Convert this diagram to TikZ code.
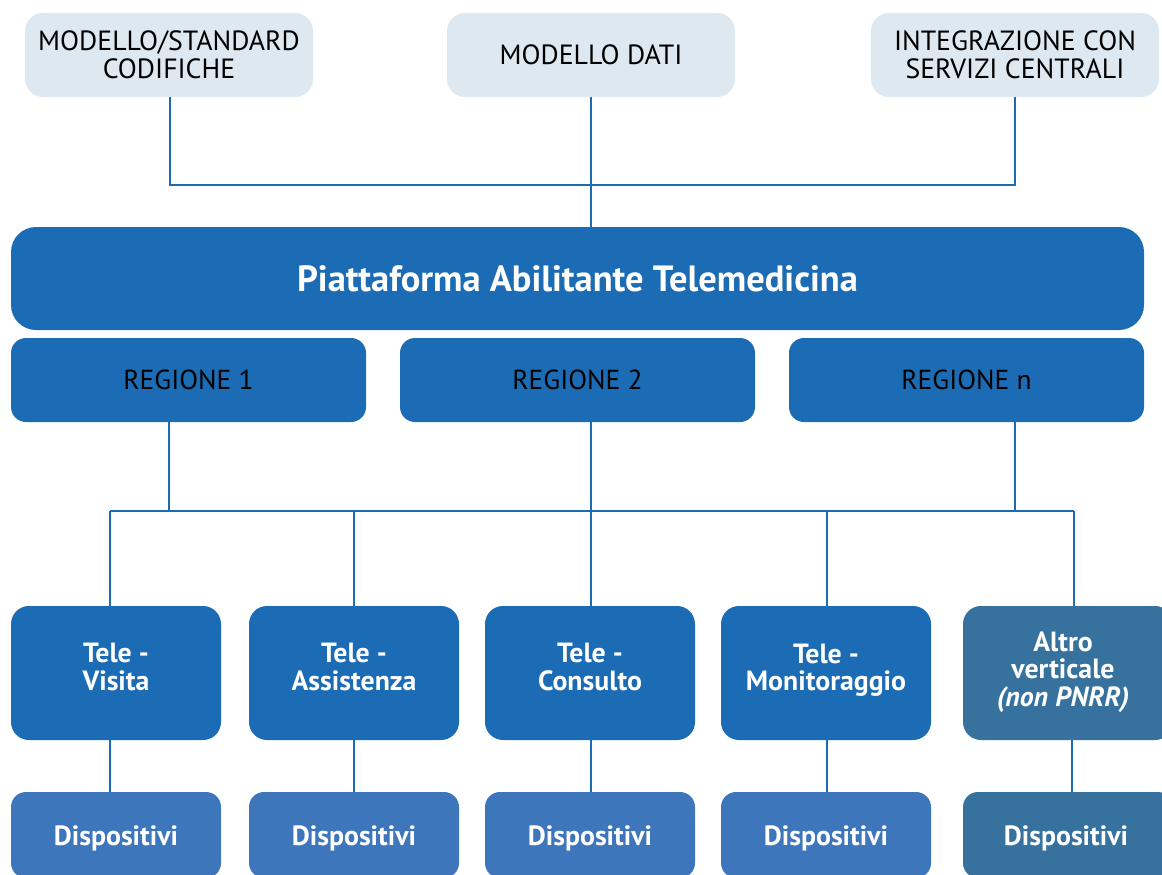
\documentclass[tikz,border=0pt]{standalone}
\usepackage{fontspec}
\setmainfont{PT Sans}
\definecolor{topfill}{HTML}{DEE8F0}
\definecolor{mainblue}{HTML}{1B6CB5}
\definecolor{devblue}{HTML}{3E76BB}
\definecolor{altblue}{HTML}{37719E}
\begin{document}
\begin{tikzpicture}[x=1pt,y=-1pt,
  topbox/.style={fill=topfill, draw=none, rounded corners=18pt, minimum width=288pt, minimum height=84pt, inner sep=0pt, align=center, font=\fontsize{27.8}{27.5}\selectfont, text=black},
  platbox/.style={fill=mainblue, draw=none, rounded corners=25pt, minimum width=1133pt, minimum height=103pt, inner sep=0pt, font=\fontsize{36.5}{38}\selectfont\bfseries, text=white},
  regbox/.style={fill=mainblue, draw=none, rounded corners=15pt, minimum width=355pt, minimum height=84pt, inner sep=0pt, font=\fontsize{27.5}{28}\selectfont, text=black},
  midbox/.style={fill=mainblue, draw=none, rounded corners=18pt, minimum width=210pt, minimum height=134pt, inner sep=0pt},
  devbox/.style={fill=devblue, draw=none, rounded corners=15pt, minimum width=210pt, minimum height=86pt, inner sep=0pt},
  wtxt/.style={align=center, inner sep=0pt, font=\fontsize{27.8}{27.5}\selectfont\bfseries, text=white},
  conn/.style={draw=mainblue, line width=1.6pt}
]
\useasboundingbox (0,0) rectangle (1162,875);
\clip (0,0) rectangle (1162,875);

% top boxes
\node[topbox] (t1) at (169,55) {MODELLO/STANDARD\\CODIFICHE};
\node[topbox] (t2) at (591,55) {MODELLO DATI};
\node[topbox] (t3) at (1015,55) {INTEGRAZIONE CON\\SERVIZI CENTRALI};

% platform
\node[platbox] (plat) at (577.5,278.5) {Piattaforma Abilitante Telemedicina};

% regions
\node[regbox] (r1) at (188.5,380) {REGIONE 1};
\node[regbox] (r2) at (577.5,380) {REGIONE 2};
\node[regbox] (rn) at (966.5,380) {REGIONE n};

% middle boxes
\node[midbox] (m1) at (116,673) {};
\node[midbox] (m2) at (354,673) {};
\node[midbox] (m3) at (590,673) {};
\node[midbox] (m4) at (826,673) {};
\node[midbox, fill=altblue] (m5) at (1068,673) {};
\node[wtxt] (m1t) at (116,667) {Tele -\\Visita};
\node[wtxt] (m2t) at (354,667) {Tele -\\Assistenza};
\node[wtxt] (m3t) at (590,667) {Tele -\\Consulto};
\node[wtxt] (m4t) at (826,670) {Tele -\\Monitoraggio};
\node[wtxt] (m5t) at (1063,672) {Altro\\verticale\\{\itshape(non PNRR)}};

% bottom boxes
\node[devbox] (d1) at (116,835) {};
\node[devbox] (d2) at (354,835) {};
\node[devbox] (d3) at (590,835) {};
\node[devbox] (d4) at (826,835) {};
\node[devbox, fill=altblue] (d5) at (1068,835) {};
\node[wtxt] (d1t) at (116,838) {Dispositivi};
\node[wtxt] (d2t) at (354,838) {Dispositivi};
\node[wtxt] (d3t) at (590,838) {Dispositivi};
\node[wtxt] (d4t) at (826,838) {Dispositivi};
\node[wtxt] (d5t) at (1066,838) {Dispositivi};

% connectors top
\coordinate (j1) at (591,185);
\draw[conn] (t1.south -| 170,0) |- (j1) -| (t3.south);
\draw[conn] (t2.south) -- (t2.south |- plat.north);

% bus
\coordinate (b1) at (110,511);
\coordinate (b2) at (354,511);
\coordinate (b3) at (591,511);
\coordinate (b4) at (827,511);
\coordinate (b5) at (1074,511);
\draw[conn] (r1.south -| t1.south) -- (t1.south |- b1);
\draw[conn] (rn.south -| t3.south) -- (t3.south |- b1);
\draw[conn] (r2.south -| b3) -- (b3);
\draw[conn] (b1) -- (b5);
\draw[conn] (b1) -- (b1 |- m1.north);
\draw[conn] (b2) -- (b2 |- m2.north);
\draw[conn] (b3) -- (b3 |- m3.north);
\draw[conn] (b4) -- (b4 |- m4.north);
\draw[conn] (b5) -- (b5 |- m5.north);

% lower connectors
\draw[conn] (m1.south -| b1) -- (b1 |- d1.north);
\draw[conn] (m2.south -| b2) -- (b2 |- d2.north);
\draw[conn] (m3.south -| b3) -- (b3 |- d3.north);
\draw[conn] (m4.south -| b4) -- (b4 |- d4.north);
\draw[conn] (m5.south -| 1072,0) -- (d5.north -| 1072,0);
\end{tikzpicture}
\end{document}
